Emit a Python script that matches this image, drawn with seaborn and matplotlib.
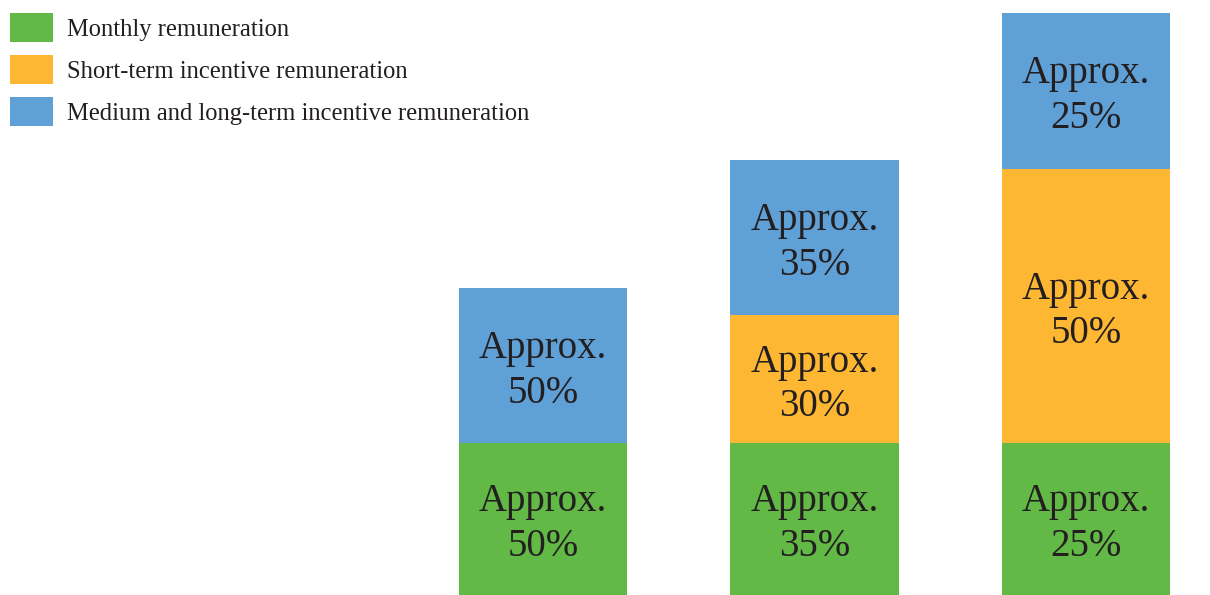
import matplotlib
matplotlib.use("Agg")
import matplotlib.pyplot as plt
import seaborn as sns
import numpy as np
from matplotlib.patches import Patch

# bar heights (monthly segment = 1 unit)
categories = ["A", "B", "C"]
monthly = [1.0, 1.0, 1.0]
short_term = [0.0, 0.84, 1.80]
long_term = [1.02, 1.02, 1.03]

monthly_labels = ["Approx.\n50%", "Approx.\n35%", "Approx.\n25%"]
short_labels = ["", "Approx.\n30%", "Approx.\n50%"]
long_labels = ["Approx.\n50%", "Approx.\n35%", "Approx.\n25%"]

series_names = ["Monthly remuneration", "Short-term incentive remuneration",
                "Medium and long-term incentive remuneration"]
colors = ["#62B946", "#FDB733", "#5FA0D6"]

sns.set_theme(style="white")
plt.rcParams['font.family'] = ['Liberation Serif', 'DejaVu Serif']

fig = plt.figure(figsize=(12.1, 5.95), dpi=100)
ax = fig.add_axes([0, 0, 1, 1])

bottoms = np.zeros(len(categories))
for vals, labels, color in zip([monthly, short_term, long_term],
                               [monthly_labels, short_labels, long_labels], colors):
    sns.barplot(x=categories, y=vals, bottom=bottoms, color=color, width=0.62,
                linewidth=0, saturation=1, ax=ax)
    for i, (v, lab) in enumerate(zip(vals, labels)):
        if v > 0 and lab:
            # nudge down a little so the ink sits centred like the original
            ax.text(i, bottoms[i] + v / 2 - 0.035, lab, ha="center", va="center",
                    fontsize=28, color="#231F20", linespacing=1.28)
    bottoms = bottoms + np.array(vals)

ax.set_xlim(-2.0, 2.457)
ax.set_ylim(0, 3.914)
ax.axis("off")

handles = [Patch(facecolor=c, edgecolor="none") for c in colors]
fig.legend(handles, series_names, loc="upper left",
           bbox_to_anchor=(10 / 1210, 1 - 13 / 595), frameon=False,
           fontsize=17.7, handlelength=1.75, handleheight=1.45,
           handletextpad=0.57, labelspacing=0.52, borderpad=0, borderaxespad=0,
           labelcolor="#231F20")

fig.savefig("out.png", dpi=100)
